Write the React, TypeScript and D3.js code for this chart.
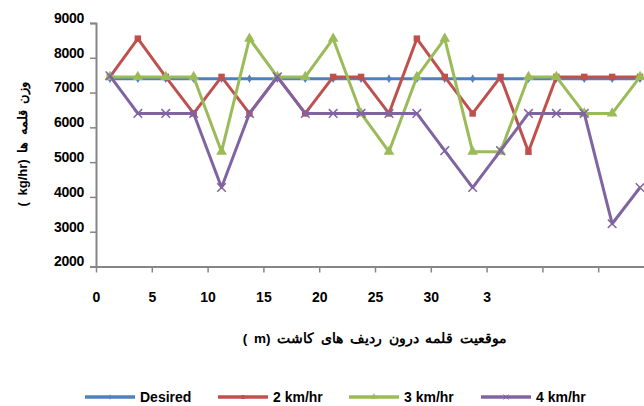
import React, { useRef, useEffect } from 'react';
import * as d3 from 'd3';

// position along the row (m) of each sample point
const positions = [1.25, 3.75, 6.25, 8.75, 11.25, 13.75, 16.25, 18.75, 21.25, 23.75, 26.25, 28.75, 31.25, 33.75, 36.25, 38.75, 41.25, 43.75, 46.25, 48.75];

const desired = [7400, 7400, 7400, 7400, 7400, 7400, 7400, 7400, 7400, 7400, 7400, 7400, 7400, 7400, 7400, 7400, 7400, 7400, 7400, 7400];
const speed2 = [7450, 8550, 7450, 6400, 7450, 6400, 7450, 6400, 7450, 7450, 6400, 8550, 7450, 6400, 7450, 5300, 7450, 7450, 7450, 7450];
const speed3 = [7450, 7450, 7450, 7450, 5300, 8550, 7450, 7450, 8550, 6400, 5300, 7450, 8550, 5300, 5300, 7450, 7450, 6400, 6400, 7450];
const speed4 = [7480, 6400, 6400, 6400, 4270, 6400, 7450, 6400, 6400, 6400, 6400, 6400, 5330, 4270, 5330, 6400, 6400, 6400, 3230, 4270];

const xTicks = [0, 5, 10, 15, 20, 25, 30, 35, 40, 45];
const xTickLabels = ['0', '5', '10', '15', '20', '25', '30', '3', '', ''];
const yTicks = [2000, 3000, 4000, 5000, 6000, 7000, 8000, 9000];

const seriesNames = ['Desired', '2 km/hr', '3 km/hr', '4 km/hr'];
const seriesValues = [desired, speed2, speed3, speed4];
const colors = ['#4F81BD', '#C0504D', '#9BBB59', '#8064A2'];
const markers = ['diamond', 'square', 'triangle', 'cross'];

const Chart = () => {
  const ref = useRef(null);

  useEffect(() => {
    const width = 644;
    const height = 406;
    const left = 96;
    const top = 23;
    const bottom = 266.5;

    const x = d3.scaleLinear().domain([0, 50]).range([left, 654]);
    const y = d3.scaleLinear().domain([2000, 9000]).range([bottom, top]);

    const svg = d3.select(ref.current)
      .attr('width', width)
      .attr('height', height)
      .attr('viewBox', [0, 0, width, height])
      .style('position', 'absolute')
      .style('left', 0)
      .style('top', 0)
      .style('font-family', 'Liberation Sans, Arial, sans-serif');

    svg.selectAll('*').remove();

    // y axis
    const yAxis = svg.append('g')
      .attr('transform', `translate(${left},0)`)
      .call(d3.axisLeft(y).tickValues(yTicks).tickSize(6).tickPadding(6).tickFormat(d3.format('d')));
    yAxis.select('.domain').attr('stroke', '#868686').attr('stroke-width', 2);
    yAxis.selectAll('.tick line').attr('stroke', '#868686').attr('stroke-width', 1.5);
    yAxis.selectAll('.tick text')
      .attr('font-size', 14).attr('font-weight', 'bold').attr('fill', '#000')
      .attr('dy', '-0.05em').attr('letter-spacing', '-0.3');

    // x axis
    const xAxis = svg.append('g')
      .attr('transform', `translate(0,${bottom})`)
      .call(d3.axisBottom(x).tickValues(xTicks).tickSize(6).tickSizeOuter(0).tickPadding(20)
        .tickFormat((d, i) => xTickLabels[i]));
    xAxis.select('.domain').attr('stroke', '#868686').attr('stroke-width', 2);
    xAxis.selectAll('.tick line').attr('stroke', '#868686').attr('stroke-width', 1.5);
    xAxis.selectAll('.tick text')
      .attr('font-size', 14).attr('font-weight', 'bold').attr('fill', '#000');

    // lines
    const line = d3.line<number>()
      .x((d, i) => x(positions[i]))
      .y(d => y(d));

    const symbolFor = (m, k = 1) => {
      if (m === 'diamond') return d3.symbol(d3.symbolDiamond, 22 * k);
      if (m === 'square') return d3.symbol(d3.symbolSquare, 42 * k);
      if (m === 'triangle') return d3.symbol(d3.symbolTriangle, 50 * k);
      return d3.symbol(d3.symbolTimes, 50 * k);
    };

    seriesValues.forEach((vals, s) => {
      const g = svg.append('g');
      g.append('path')
        .datum(vals)
        .attr('fill', 'none')
        .attr('stroke', colors[s])
        .attr('stroke-width', 3)
        .attr('stroke-linejoin', 'round')
        .attr('d', line);
      g.selectAll('path.mk')
        .data(vals)
        .join('path')
        .attr('class', 'mk')
        .attr('transform', (d, i) => `translate(${x(positions[i])},${y(d)})`)
        .attr('d', symbolFor(markers[s])())
        .attr('fill', colors[s])
        .attr('stroke', markers[s] === 'cross' ? colors[s] : 'none')
        .attr('stroke-width', markers[s] === 'cross' ? 1.5 : 0);
    });

    // y title
    svg.append('text')
      .attr('transform', 'translate(27,144) rotate(-90)')
      .attr('text-anchor', 'middle')
      .attr('font-size', 13)
      .attr('font-weight', 'bold')
      .attr('fill', '#000')
      .attr('word-spacing', 3)
      .text('( kg/hr)   وزن  قلمه  ها');

    // x title
    svg.append('text')
      .attr('x', 375)
      .attr('y', 343)
      .attr('text-anchor', 'middle')
      .attr('font-size', 13.5)
      .attr('font-weight', 'bold')
      .attr('fill', '#000')
      .attr('word-spacing', 3)
      .text('( m)  موقعیت  قلمه  درون  ردیف  های کاشت');

    // legend
    const legendX = [85, 218, 349, 481];
    seriesNames.forEach((name, s) => {
      const g = svg.append('g').attr('transform', `translate(${legendX[s]},397)`);
      g.append('line')
        .attr('x1', 0).attr('x2', 50).attr('y1', 0).attr('y2', 0)
        .attr('stroke', colors[s]).attr('stroke-width', 3.5);
      g.append('path')
        .attr('transform', 'translate(25,0)')
        .attr('d', symbolFor(markers[s], 0.35)())
        .attr('fill', colors[s])
        .attr('stroke', markers[s] === 'cross' ? colors[s] : 'none');
      g.append('text')
        .attr('x', 55).attr('y', 5)
        .attr('font-size', 14).attr('font-weight', 'bold').attr('fill', '#000')
        .text(name);
    });
  }, []);

  return <svg ref={ref}></svg>;
};

export default function App() {
  return <Chart />;
}
